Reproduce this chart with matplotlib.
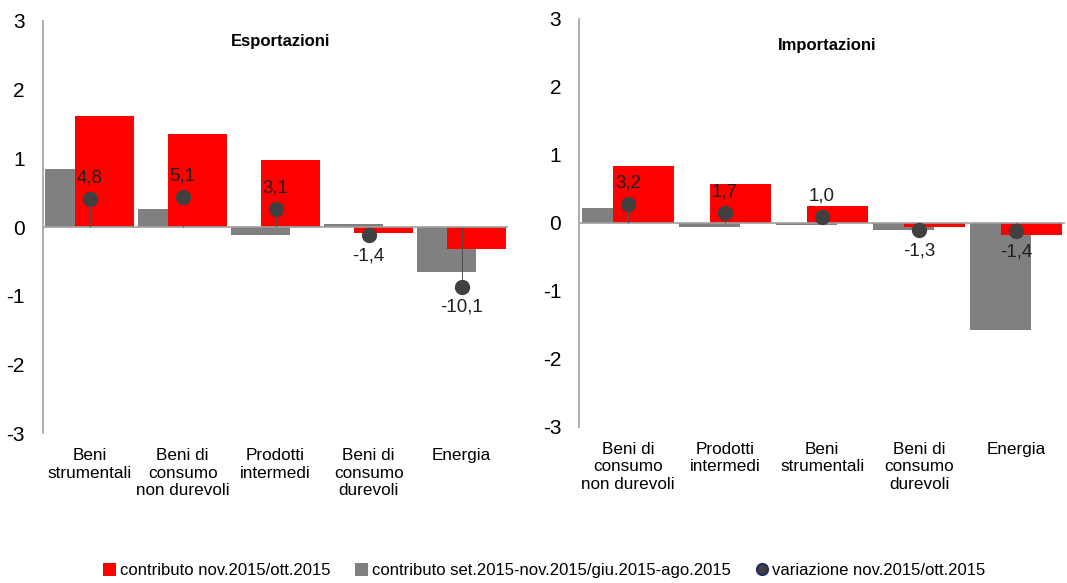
import numpy as np
import matplotlib
matplotlib.use("Agg")
import matplotlib.pyplot as plt
from matplotlib.lines import Line2D
from matplotlib.patches import Patch

plt.rcParams['font.family'] = ['Liberation Sans', 'DejaVu Sans']

# Esportazioni
exp_cats = ["Beni\nstrumentali", "Beni di\nconsumo\nnon durevoli", "Prodotti\nintermedi",
            "Beni di\nconsumo\ndurevoli", "Energia"]
exp_red = [1.62, 1.35, 0.97, -0.09, -0.32]
exp_gray = [0.84, 0.27, -0.12, 0.05, -0.65]
exp_var = [4.8, 5.1, 3.1, -1.4, -10.1]

# Importazioni
imp_cats = ["Beni di\nconsumo\nnon durevoli", "Prodotti\nintermedi", "Beni\nstrumentali",
            "Beni di\nconsumo\ndurevoli", "Energia"]
imp_red = [0.84, 0.57, 0.24, -0.06, -0.18]
imp_gray = [0.21, -0.06, -0.04, -0.11, -1.58]
imp_var = [3.2, 1.7, 1.0, -1.3, -1.4]

RED = "#ff0000"
GRAY = "#808080"
DOT = "#404040"


def draw_panel(ax, title, cats, red, gray, var, title_y):
    x = np.arange(len(cats))
    ax.bar(x - 0.16, gray, width=0.63, color=GRAY, zorder=2)
    ax.bar(x + 0.16, red, width=0.63, color=RED, zorder=3)
    ax.axhline(0, color="#a0a0a0", lw=1.2, zorder=4)
    ax.set_ylim(-3, 3)
    ax.set_xlim(-0.5, len(cats) - 0.5)
    ax.set_yticks([-3, -2, -1, 0, 1, 2, 3])
    ax.set_yticklabels(["-3", "-2", "-1", "0", "1", "2", "3"], fontsize=15)
    ax.set_xticks(x)
    ax.set_xticklabels(cats, fontsize=12.3, linespacing=1.2)
    ax.tick_params(axis='both', length=0)
    ax.tick_params(axis='x', pad=11)
    ax.tick_params(axis='y', pad=13)
    for s in ["top", "right", "bottom"]:
        ax.spines[s].set_visible(False)
    ax.spines["left"].set_color("#a0a0a0")
    ax.spines["left"].set_linewidth(1.2)
    ax.text(0.51, title_y, title, transform=ax.transAxes, ha="center", va="center",
            fontsize=12, fontweight="bold")

    # secondary (hidden) axis for the variation points
    ax2 = ax.twinx()
    ax2.set_ylim(-35, 35)
    ax2.axis("off")
    ax2.vlines(x, 0, var, color="#505050", lw=0.7, zorder=5)
    ax2.plot(x, var, "o", color=DOT, markersize=10, zorder=6)
    for xi, v in zip(x, var):
        lbl = f"{v:.1f}".replace(".", ",")
        off = 15 if v >= 0 else -15
        ax2.annotate(lbl, (xi, v), xytext=(0, off), textcoords="offset points",
                     ha="center", va="center", fontsize=13.5, color="#202020")


fig = plt.figure(figsize=(10.67, 5.83), dpi=100)
ax_l = fig.add_axes([0.0403, 0.257, 0.436, 0.707])
ax_r = fig.add_axes([0.543, 0.268, 0.455, 0.700])

draw_panel(ax_l, "Esportazioni", exp_cats, exp_red, exp_gray, exp_var, 0.95)
draw_panel(ax_r, "Importazioni", imp_cats, imp_red, imp_gray, imp_var, 0.935)

handles = [
    Patch(facecolor=RED, label="contributo nov.2015/ott.2015"),
    Patch(facecolor=GRAY, label="contributo set.2015-nov.2015/giu.2015-ago.2015"),
    Line2D([], [], marker="o", linestyle="none", markerfacecolor=DOT,
           markeredgecolor="#1f2a6b", markeredgewidth=1.5, markersize=8,
           label="variazione nov.2015/ott.2015"),
]
fig.legend(handles=handles, loc="lower center", bbox_to_anchor=(0.51, -0.018), ncol=3,
           frameon=False, fontsize=12, handlelength=0.8, handleheight=0.8,
           handletextpad=0.2, columnspacing=1.5)

fig.savefig("out.png", dpi=100)
